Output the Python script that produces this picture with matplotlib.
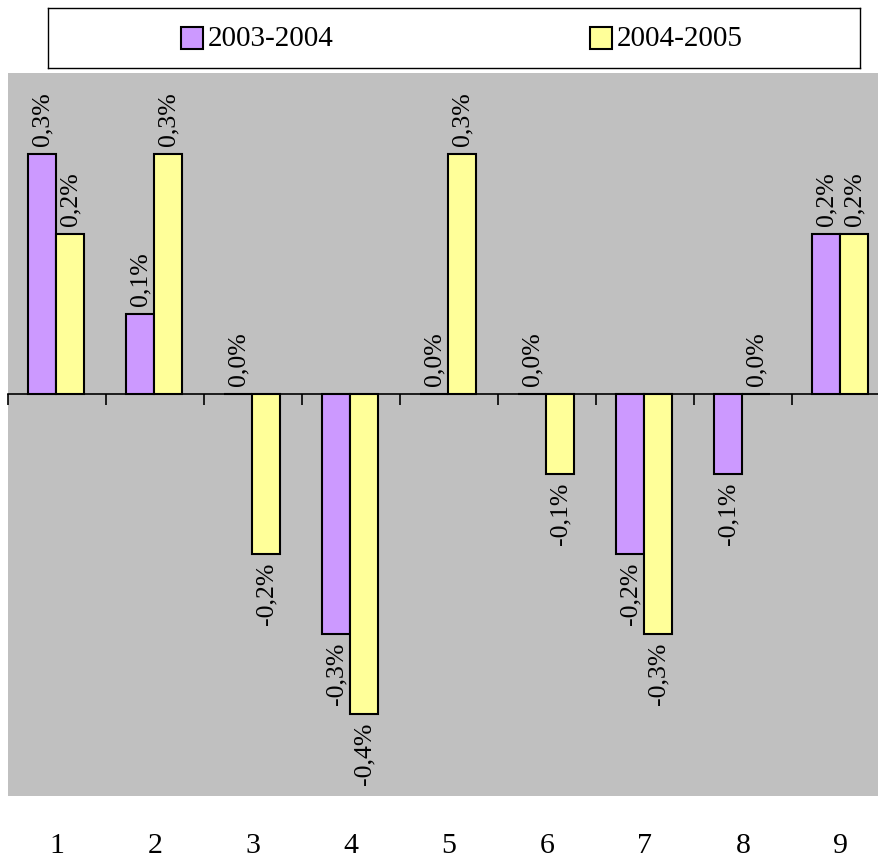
import matplotlib
matplotlib.use("Agg")
import matplotlib.pyplot as plt
import matplotlib.transforms as mtransforms
from matplotlib.patches import Rectangle
import numpy as np

plt.rcParams["font.family"] = ["Liberation Serif", "DejaVu Serif"]

categories = ["1", "2", "3", "4", "5", "6", "7", "8", "9"]
series_names = ["2003-2004", "2004-2005"]
vals_2003_2004 = [0.3, 0.1, 0.0, -0.3, 0.0, 0.0, -0.2, -0.1, 0.2]
vals_2004_2005 = [0.2, 0.3, -0.2, -0.4, 0.3, -0.1, -0.3, 0.0, 0.2]
colors = ["#CC99FF", "#FFFF99"]

W, H = 879, 860
fig = plt.figure(figsize=(W / 100, H / 100), dpi=100)
ax = fig.add_axes([8 / W, (H - 796) / H, (W - 8) / W, (796 - 73) / H])
ax.set_facecolor("#C0C0C0")

x = np.arange(len(categories))
bw = 0.286
for i, (vals, col) in enumerate(zip([vals_2003_2004, vals_2004_2005], colors)):
    xs = x + (i - 0.5) * bw - 0.01
    ax.bar(xs, vals, width=bw, color=col, edgecolor="black", linewidth=1.5, zorder=3)
    for xi, v in zip(xs, vals):
        lab = f"{v:.1f}%".replace(".", ",")
        if v >= 0:
            ax.annotate(lab, (xi, v), xytext=(0, 6), textcoords="offset points",
                        rotation=90, ha="center", va="bottom", fontsize=18.5, zorder=4)
        else:
            ax.annotate(lab, (xi, v), xytext=(0, -6), textcoords="offset points",
                        rotation=90, ha="center", va="top", fontsize=18.5, zorder=4)

ax.set_xlim(-0.5, -0.5 + (W - 8) / 98)
ax.set_ylim(-0.5025, 0.40125)

for s in ["top", "right", "left"]:
    ax.spines[s].set_visible(False)
ax.spines["bottom"].set_position(("data", 0))
ax.spines["bottom"].set_linewidth(1.2)
ax.spines["bottom"].set_zorder(5)
ax.set_xticks(np.arange(len(categories)) - 0.5)
ax.tick_params(axis="x", length=8, width=1.2, direction="out", labelbottom=False)
ax.set_yticks([])

trans = mtransforms.blended_transform_factory(ax.transData, fig.transFigure)
for xi, c in zip(x, categories):
    ax.text(xi, (H - 846) / H, c, transform=trans, ha="center", va="center",
            fontsize=21.5, clip_on=False)

# legend box
lax = fig.add_axes([48 / W, (H - 68) / H, (860 - 48) / W, 60 / H])
lax.set_xlim(0, 812)
lax.set_ylim(0, 60)
lax.set_xticks([])
lax.set_yticks([])
for s in lax.spines.values():
    s.set_linewidth(1.0)
for hx, name, col in zip([133, 542], series_names, colors):
    lax.add_patch(Rectangle((hx, 19), 22, 22, facecolor=col, edgecolor="black", linewidth=1.5))
    lax.text(hx + 27, 29, name, ha="left", va="center", fontsize=21)

fig.savefig("out.png", dpi=100)
